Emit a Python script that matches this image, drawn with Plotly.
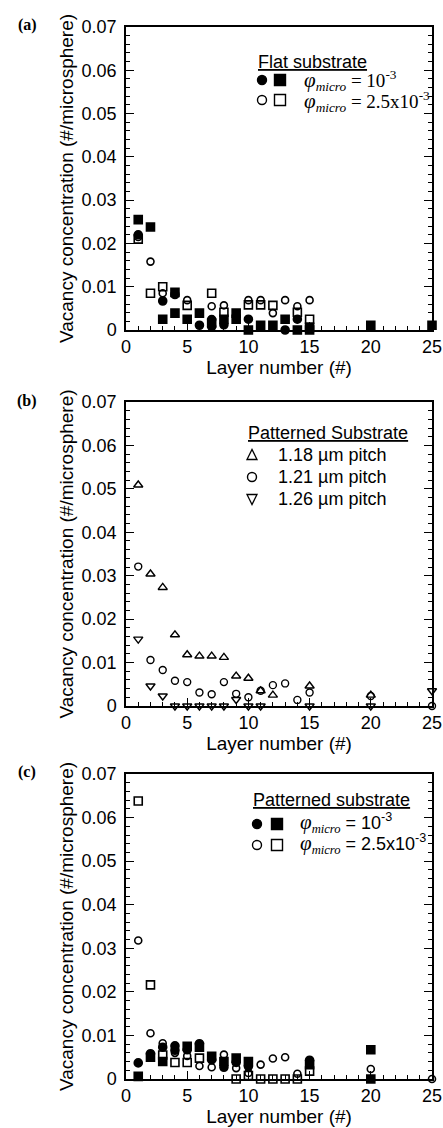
import plotly.graph_objects as go

W, H = 443, 1128

# ---------------- data ----------------
layers_ticks = [0, 5, 10, 15, 20, 25]
y_ticks = [0, 0.01, 0.02, 0.03, 0.04, 0.05, 0.06, 0.07]
y_ticktext = ["0", "0.01", "0.02", "0.03", "0.04", "0.05", "0.06", "0.07"]

# (a) flat substrate
a_fc_x = [1, 3, 4, 6, 7, 7, 8, 10, 13, 14]
a_fc_y = [0.022, 0.0067, 0.0082, 0.0011, 0.0024, 0.0008, 0.0012, 0.0025, 0.0, 0.0025]
a_fs_x = [1, 2, 3, 4, 4, 5, 6, 7, 8, 9, 9, 10, 11, 12, 13, 14, 15, 15, 20, 25]
a_fs_y = [0.0255, 0.0238, 0.0025, 0.0087, 0.0039, 0.0025, 0.0039, 0.0016, 0.0025, 0.0039,
          0.0025, 0.0, 0.0011, 0.0011, 0.0025, 0.0, 0.0006, 0.0, 0.0011, 0.0011]
a_oc_x = [1, 2, 3, 5, 7, 8, 10, 11, 12, 13, 14, 15]
a_oc_y = [0.0215, 0.0158, 0.0085, 0.0069, 0.0055, 0.0057, 0.0069, 0.0069, 0.0039, 0.0069, 0.0055, 0.0069]
a_os_x = [1, 2, 3, 5, 7, 8, 10, 11, 12, 14, 15]
a_os_y = [0.021, 0.0085, 0.0100, 0.0057, 0.0085, 0.0041, 0.0058, 0.0058, 0.0057, 0.0041, 0.0025]

# (b) patterned substrate, pitches
b_up_x = [1, 2, 3, 4, 5, 6, 7, 8, 9, 10, 11, 12, 15, 20]
b_up_y = [0.0509, 0.0304, 0.0273, 0.0164, 0.0118, 0.0115, 0.0115, 0.0112, 0.0069, 0.0064,
          0.0035, 0.0025, 0.0046, 0.0025]
b_c_x = [1, 2, 3, 4, 5, 6, 7, 8, 9, 10, 11, 12, 13, 14, 15, 20, 25]
b_c_y = [0.0321, 0.0106, 0.0083, 0.0058, 0.0055, 0.0031, 0.0027, 0.0055, 0.0028, 0.002,
         0.0035, 0.0048, 0.0052, 0.0014, 0.0031, 0.0023, 0.0]
b_dn_x = [1, 2, 3, 4, 5, 6, 7, 8, 9, 10, 11, 15, 20, 25]
b_dn_y = [0.0154, 0.0046, 0.0023, 0, 0, 0, 0, 0, 0.0015, 0, 0, 0, 0, 0.0035]

# (c) patterned substrate, concentrations
c_fc_x = [1, 2, 3, 4, 4, 5, 6, 7, 8, 9, 10, 15]
c_fc_y = [0.0037, 0.0058, 0.0073, 0.0076, 0.0066, 0.0067, 0.0081, 0.0044, 0.0027, 0.0038, 0.0029, 0.0043]
c_fs_x = [1, 2, 3, 5, 6, 7, 8, 9, 10, 15, 20, 20]
c_fs_y = [0.0006, 0.005, 0.004, 0.0075, 0.0073, 0.0052, 0.004, 0.0048, 0.004, 0.0033, 0.0067, 0.0]
c_oc_x = [1, 2, 3, 4, 5, 6, 7, 8, 9, 10, 11, 12, 13, 14, 20, 25]
c_oc_y = [0.0318, 0.0105, 0.0082, 0.006, 0.0053, 0.003, 0.0027, 0.0056, 0.0025, 0.0014,
          0.0033, 0.0047, 0.005, 0.0012, 0.0023, 0.0]
c_os_x = [1, 2, 3, 4, 5, 6, 9, 10, 11, 12, 13, 14, 15]
c_os_y = [0.0638, 0.0216, 0.0055, 0.0038, 0.0038, 0.0048, 0.0, 0.0008, 0, 0, 0, 0, 0.0018]

# ---------------- figure ----------------
fig = go.Figure()

def px_x(p):
    return p / W

def px_y(p):
    return 1 - p / H

# plot frames in pixels: (top, bottom)
frames = [(27, 330), (402, 706), (774, 1079)]
LEFT, RIGHT = 126, 432

def add(x, y, symbol, size, ax, lw=1.6):
    fig.add_trace(go.Scatter(
        x=x, y=y, mode="markers", xaxis="x" + ax, yaxis="y" + ax,
        marker=dict(symbol=symbol, size=size, color="black",
                    line=dict(color="black", width=lw)),
        cliponaxis=False, showlegend=False, hoverinfo="skip"))

add(a_os_x, a_os_y, "square-open", 8, "")
add(a_oc_x, a_oc_y, "circle-open", 7, "")
add(a_fc_x, a_fc_y, "circle", 8, "")
add(a_fs_x, a_fs_y, "square", 8, "")

add(b_up_x, b_up_y, "triangle-up-open", 8, "2", 1.4)
add(b_c_x, b_c_y, "circle-open", 7, "2", 1.4)
add(b_dn_x, b_dn_y, "triangle-down-open", 8, "2", 1.4)

add(c_os_x, c_os_y, "square-open", 8, "3")
add(c_oc_x, c_oc_y, "circle-open", 7, "3")
add(c_fc_x, c_fc_y, "circle", 8, "3")
add(c_fs_x, c_fs_y, "square", 8, "3")

SANS = "Liberation Sans, Arial, sans-serif"
SERIF = "Liberation Serif, Times New Roman, serif"

layout = dict(width=W, height=H, margin=dict(l=0, r=0, t=0, b=0),
              plot_bgcolor="white", paper_bgcolor="white", showlegend=False)

for i, (top, bot) in enumerate(frames):
    sfx = "" if i == 0 else str(i + 1)
    layout["xaxis" + sfx] = dict(
        domain=[px_x(LEFT), px_x(RIGHT)], range=[0, 25], anchor="y" + sfx,
        tickvals=layers_ticks, ticks="inside", ticklen=8, tickwidth=1.3,
        tickcolor="black", showline=True, linecolor="black", linewidth=1.5,
        mirror=True, showgrid=False, zeroline=False,
        minor=dict(dtick=1, ticks="inside", ticklen=4, tickwidth=1.1, tickcolor="black"),
        tickfont=dict(family=SANS, size=18, color="black"),
        title=dict(text="Layer number (#)", font=dict(family=SANS, size=19, color="black"),
                   standoff=2),
        automargin=False, fixedrange=True)
    layout["yaxis" + sfx] = dict(
        domain=[px_y(bot), px_y(top)], range=[0, 0.07], anchor="x" + sfx,
        tickvals=y_ticks, ticktext=y_ticktext, ticks="inside", ticklen=8, tickwidth=1.3,
        tickcolor="black", showline=True, linecolor="black", linewidth=1.5,
        mirror="ticks", showgrid=False, zeroline=False,
        minor=dict(dtick=0.002, ticks="inside", ticklen=4, tickwidth=1.1, tickcolor="black"),
        tickfont=dict(family=SANS, size=18, color="black"),
        ticklabelstandoff=4,
        title=dict(text="Vacancy concentration (#/microsphere)",
                   font=dict(family=SANS, size=19, color="black"), standoff=3),
        automargin=False, fixedrange=True)

fig.update_layout(**layout)

anns = []
shapes = []

def text(x, y, t, size=18, family=SANS, xanchor="left"):
    anns.append(dict(x=px_x(x), y=px_y(y), xref="paper", yref="paper", text=t,
                     showarrow=False, xanchor=xanchor, yanchor="middle",
                     font=dict(family=family, size=size, color="black")))

def glyph(kind, x, y, filled):
    s = 5.5
    if kind == "circle":
        shapes.append(dict(type="circle", xref="paper", yref="paper",
                           xsizemode="pixel", ysizemode="pixel",
                           xanchor=px_x(x), yanchor=px_y(y),
                           x0=-4.5, x1=4.5, y0=-4.5, y1=4.5,
                           line=dict(color="black", width=1.4),
                           fillcolor="black" if filled else "rgba(0,0,0,0)"))
    elif kind == "square":
        shapes.append(dict(type="rect", xref="paper", yref="paper",
                           xsizemode="pixel", ysizemode="pixel",
                           xanchor=px_x(x), yanchor=px_y(y),
                           x0=-s, x1=s, y0=-s, y1=s,
                           line=dict(color="black", width=1.4),
                           fillcolor="black" if filled else "rgba(0,0,0,0)"))
    elif kind == "up":
        shapes.append(dict(type="path", xref="paper", yref="paper",
                           xsizemode="pixel", ysizemode="pixel",
                           xanchor=px_x(x), yanchor=px_y(y),
                           path="M -5,-4.5 L 5,-4.5 L 0,5.5 Z",
                           line=dict(color="black", width=1.3)))
    elif kind == "down":
        shapes.append(dict(type="path", xref="paper", yref="paper",
                           xsizemode="pixel", ysizemode="pixel",
                           xanchor=px_x(x), yanchor=px_y(y),
                           path="M -5,4.5 L 5,4.5 L 0,-5.5 Z",
                           line=dict(color="black", width=1.3)))

# panel labels
for lbl, yy in [("(a)", 25), ("(b)", 401), ("(c)", 772)]:
    text(27, yy, "<b>" + lbl + "</b>", size=16, family=SERIF, xanchor="center")

phi = '<span style="font-size:21px"><i>φ</i></span><sub><i>micro</i></sub>'

# (a) legend
text(256, 62, "<u>Flat substrate</u>", size=18)
glyph("circle", 262, 80, True)
glyph("square", 280, 80, True)
glyph("circle", 262, 100, False)
glyph("square", 280, 100, False)
text(302, 81, phi + " = 10<sup>-3</sup>", size=19, family=SERIF)
text(302, 101, phi + " = 2.5x10<sup>-3</sup>", size=19, family=SERIF)

# (b) legend
text(246, 433, "<u>Patterned Substrate</u>", size=18)
glyph("up", 252, 455, False)
glyph("circle", 252, 477, False)
glyph("down", 252, 499, False)
text(276, 455, "1.18 µm pitch", size=18)
text(276, 477, "1.21 µm pitch", size=18)
text(276, 499, "1.26 µm pitch", size=18)

# (c) legend
text(251, 800, "<u>Patterned substrate</u>", size=18)
glyph("circle", 257, 824, True)
glyph("square", 277, 824, True)
glyph("circle", 257, 845, False)
glyph("square", 277, 845, False)
sans_span = '<span style="font-family:Liberation Sans, Arial, sans-serif">'
text(298, 823, phi + sans_span + " = 10<sup>-3</sup></span>", size=18, family=SERIF)
text(298, 844, phi + sans_span + " = 2.5x10<sup>-3</sup></span>", size=18, family=SERIF)

fig.update_layout(annotations=anns, shapes=shapes)
fig.write_html("out.html", config={"displayModeBar": False},
               post_script="document.body.style.margin='0';document.body.style.padding='0';")
